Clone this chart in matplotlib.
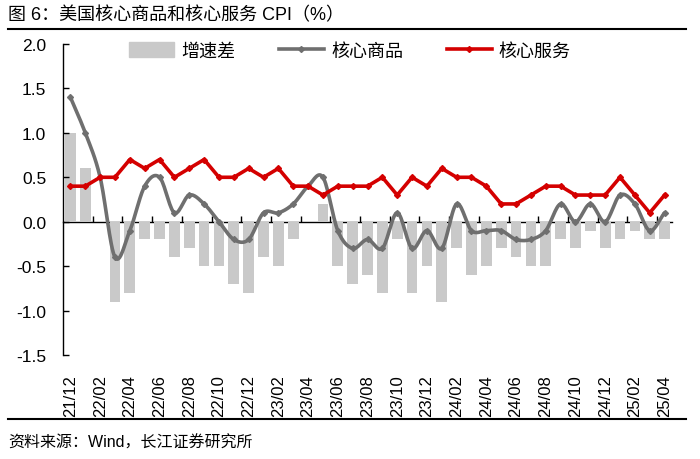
import numpy as np
import matplotlib
matplotlib.use("Agg")
import matplotlib.pyplot as plt
from matplotlib.patches import Patch
from matplotlib.lines import Line2D

plt.rcParams["font.family"] = ["Liberation Sans", "Noto Sans CJK SC", "DejaVu Sans"]
plt.rcParams["axes.unicode_minus"] = False

months = ["21/12", "22/01", "22/02", "22/03", "22/04", "22/05", "22/06",
          "22/07", "22/08", "22/09", "22/10", "22/11", "22/12", "23/01",
          "23/02", "23/03", "23/04", "23/05", "23/06", "23/07", "23/08",
          "23/09", "23/10", "23/11", "23/12", "24/01", "24/02", "24/03",
          "24/04", "24/05", "24/06", "24/07", "24/08", "24/09", "24/10",
          "24/11", "24/12", "25/01", "25/02", "25/03", "25/04"]
# 核心商品 CPI 环比
goods = [1.4, 1.0, 0.5, -0.4, -0.1, 0.4, 0.5, 0.1, 0.3, 0.2, 0.0, -0.2,
         -0.2, 0.1, 0.1, 0.2, 0.4, 0.5, -0.1, -0.3, -0.2, -0.3, 0.1, -0.3,
         -0.1, -0.3, 0.2, -0.1, -0.1, -0.1, -0.2, -0.2, -0.1, 0.2, 0.0, 0.2,
         0.0, 0.3, 0.2, -0.1, 0.1]
# 核心服务 CPI 环比
services = [0.4, 0.4, 0.5, 0.5, 0.7, 0.6, 0.7, 0.5, 0.6, 0.7, 0.5, 0.5,
            0.6, 0.5, 0.6, 0.4, 0.4, 0.3, 0.4, 0.4, 0.4, 0.5, 0.3, 0.5,
            0.4, 0.6, 0.5, 0.5, 0.4, 0.2, 0.2, 0.3, 0.4, 0.4, 0.3, 0.3,
            0.3, 0.5, 0.3, 0.1, 0.3]
# 增速差
gap = [1.0, 0.6, 0.0, -0.9, -0.8, -0.2, -0.2, -0.4, -0.3, -0.5, -0.5, -0.7,
       -0.8, -0.4, -0.5, -0.2, 0.0, 0.2, -0.5, -0.7, -0.6, -0.8, -0.2, -0.8,
       -0.5, -0.9, -0.3, -0.6, -0.5, -0.3, -0.4, -0.5, -0.5, -0.2, -0.3, -0.1,
       -0.3, -0.2, -0.1, -0.2, -0.2]

BAR_C = "#c9c9c9"
GOODS_C = "#6f6f6f"
SERV_C = "#d40000"


def smooth_curve(y, n=16):
    # catmull-rom, like excel "smoothed line"
    y = np.asarray(y, dtype=float)
    x = np.arange(len(y), dtype=float)
    px = np.concatenate([[2 * x[0] - x[1]], x, [2 * x[-1] - x[-2]]])
    py = np.concatenate([[2 * y[0] - y[1]], y, [2 * y[-1] - y[-2]]])
    t = np.linspace(0, 1, n, endpoint=False)
    xs, ys = [], []
    for i in range(1, len(px) - 2):
        for arr, out in ((px, xs), (py, ys)):
            p0, p1, p2, p3 = arr[i - 1], arr[i], arr[i + 1], arr[i + 2]
            out.append(0.5 * (2 * p1 + (-p0 + p2) * t
                              + (2 * p0 - 5 * p1 + 4 * p2 - p3) * t ** 2
                              + (-p0 + 3 * p1 - 3 * p2 + p3) * t ** 3))
    xs.append([x[-1]])
    ys.append([y[-1]])
    return np.concatenate(xs), np.concatenate(ys)


fig = plt.figure(figsize=(7, 4.6), dpi=100)
ax = fig.add_axes([63 / 700, 1 - 356 / 460, 609 / 700, 311 / 460])

x = np.arange(len(months))
ax.bar(x, gap, width=0.72, color=BAR_C, zorder=1)
sx, sy = smooth_curve(goods)
ax.plot(sx, sy, color=GOODS_C, lw=2.6, zorder=3, solid_capstyle="round")
ax.plot(x, goods, ls="none", marker="D", ms=3, color=GOODS_C, zorder=3)
ax.plot(x, services, color=SERV_C, lw=2.6, marker="D", ms=3, zorder=4)

ax.set_xlim(-0.5, len(months) - 0.5)
ax.set_ylim(-1.5, 2.0)
ax.set_yticks(np.arange(-1.5, 2.01, 0.5))
ax.set_yticklabels(["{:.1f}".format(v) for v in np.arange(-1.5, 2.01, 0.5)])
ax.tick_params(axis="y", direction="in", length=4, width=1, pad=12,
               labelsize=12.5)
ax.set_xticks(x[::2])
ax.set_xticklabels(months[::2], rotation=90)
ax.tick_params(axis="x", length=0, pad=14, labelsize=12)
for s in ["top", "right", "bottom"]:
    ax.spines[s].set_visible(False)
ax.spines["left"].set_linewidth(1)

# zero axis line with upward ticks
sec = ax.secondary_xaxis(0, transform=ax.transData)
sec.set_xticks(np.arange(1.5, len(months) - 1, 2))
sec.tick_params(direction="in", length=4, width=1, labelbottom=False)
sec.spines["bottom"].set_linewidth(1)

handles = [Patch(color=BAR_C),
           Line2D([], [], color=GOODS_C, lw=2.6, marker="D", ms=3),
           Line2D([], [], color=SERV_C, lw=2.6, marker="D", ms=3)]
fig.legend(handles, ["增速差", "核心商品", "核心服务"], loc="center",
           bbox_to_anchor=(350 / 700, 1 - 52 / 460), ncol=3, frameon=False,
           fontsize=13, handlelength=2.5, handletextpad=0.4,
           columnspacing=2.4, handleheight=0.9)

fig.text(8 / 700, 1 - 16 / 460, "图 6：美国核心商品和核心服务 CPI（%）",
         fontsize=13, va="center", ha="left")
fig.add_artist(Line2D([8 / 700, 686 / 700], [1 - 30 / 460] * 2,
                      color="black", lw=1.5))
fig.add_artist(Line2D([8 / 700, 686 / 700], [1 - 420 / 460] * 2,
                      color="black", lw=1.5))
fig.text(8 / 700, 1 - 443 / 460, "资料来源：Wind，长江证券研究所",
         fontsize=11.5, va="center", ha="left")

fig.savefig("out.png", dpi=100)
